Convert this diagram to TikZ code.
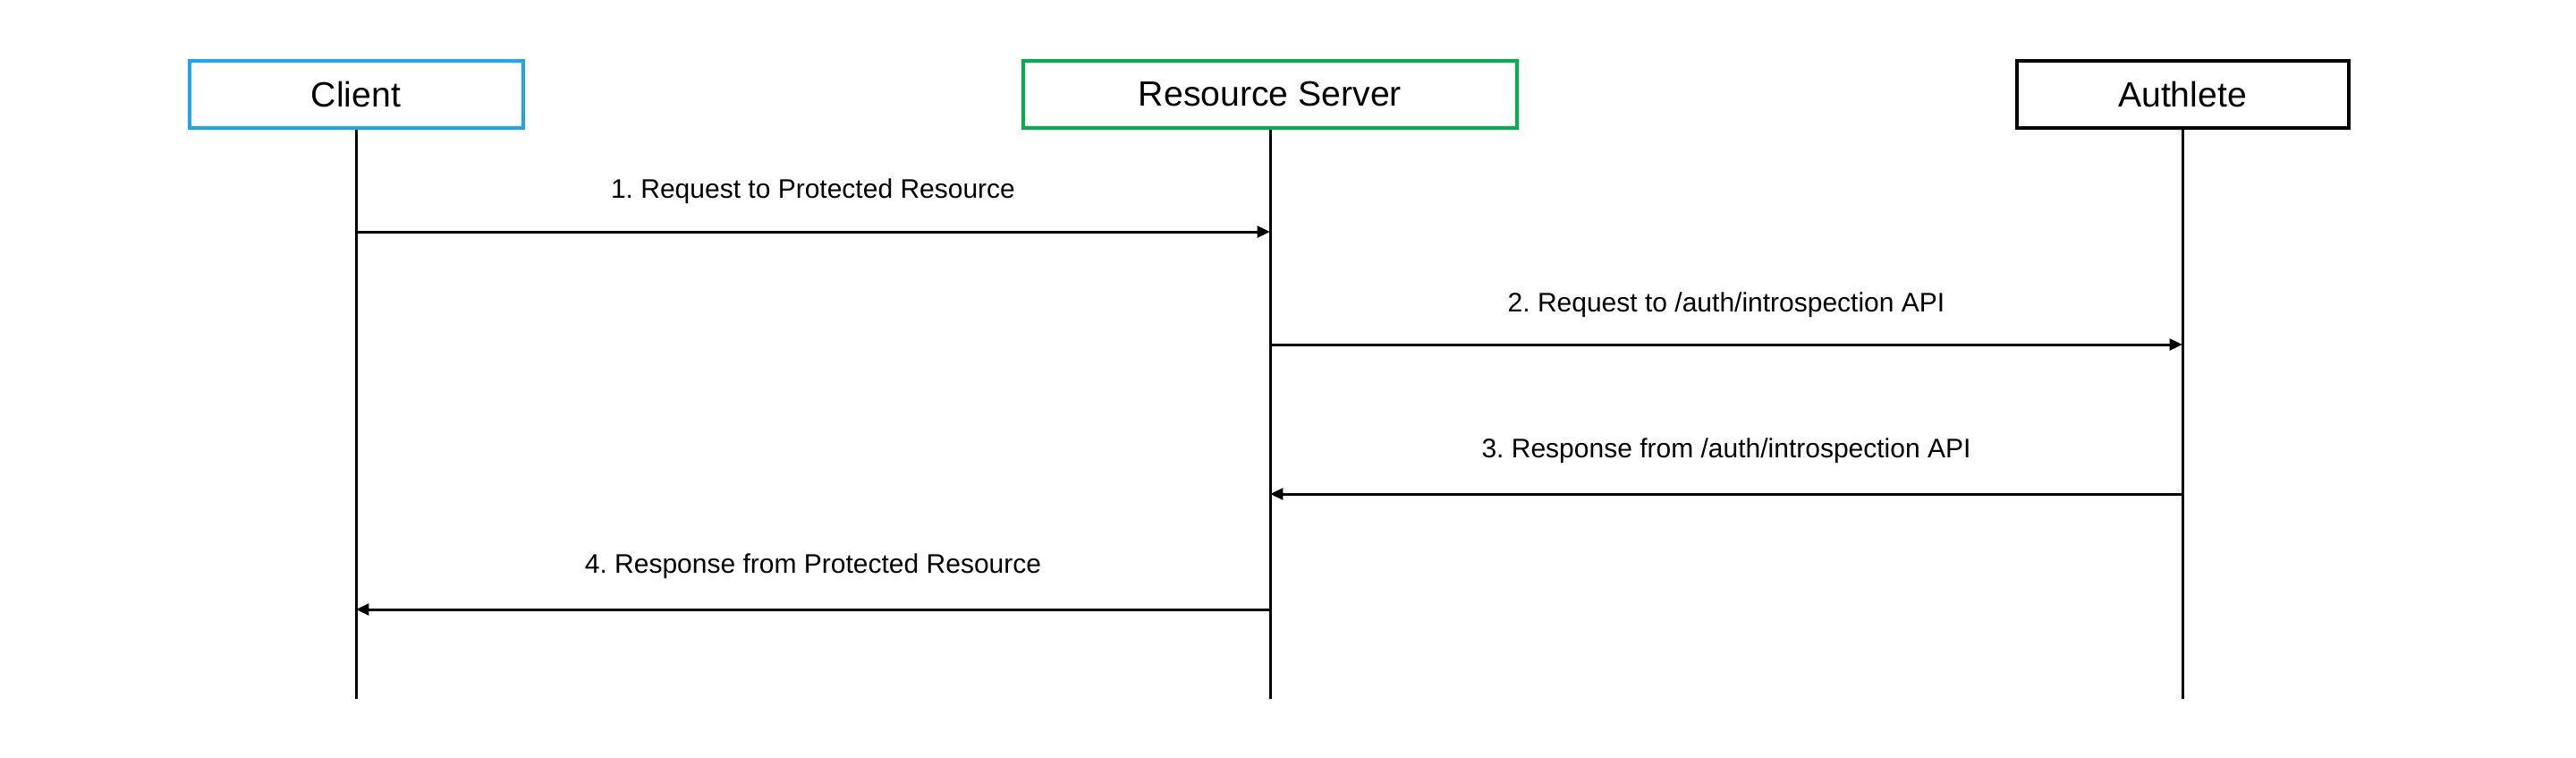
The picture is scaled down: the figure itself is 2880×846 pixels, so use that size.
\documentclass[tikz,border=0pt]{standalone}
\usepackage{fontspec}
\setmainfont{Liberation Sans}
\usetikzlibrary{arrows.meta}
\frenchspacing
\definecolor{clientblue}{HTML}{1AA7F0}
\definecolor{rsgreen}{HTML}{00B050}
\tikzset{
  actor/.style={draw, line width=1pt, fill=white, minimum height=75*0.25pt, inner sep=0pt, font=\fontsize{9.8}{12}\selectfont},
  lifeline/.style={line width=0.75pt},
  msg/.style={line width=0.75pt, -{Triangle[length=3.6pt,width=3.2pt]}},
  msglabel/.style={font=\fontsize{7.5}{9}\selectfont, inner sep=0pt}
}
\begin{document}
\begin{tikzpicture}[x=0.25pt,y=-0.25pt]
\useasboundingbox (0,0) rectangle (2880,846);
% actors
\node[actor, draw=clientblue, minimum width=373*0.25pt] (client) at (398,105.5) {Client};
\node[actor, draw=rsgreen, minimum width=552*0.25pt] (rs) at (1420,105.5) {Resource Server};
\node[actor, draw=black, minimum width=371*0.25pt] (auth) at (2440,105.5) {Authlete};
% lifeline ends
\coordinate (clientEnd) at (398,781);
\coordinate (rsEnd) at (1420,781);
\coordinate (authEnd) at (2440,781);
\draw[lifeline] (client.south) -- (clientEnd);
\draw[lifeline] (rs.south) -- (rsEnd);
\draw[lifeline] (auth.south) -- (authEnd);
% message anchor points
\coordinate (c1) at (398,259);  \coordinate (r1) at (1420,259);
\coordinate (r2) at (1420,385); \coordinate (a2) at (2440,385);
\coordinate (a3) at (2440,552); \coordinate (r3) at (1420,552);
\coordinate (r4) at (1420,681); \coordinate (c4) at (398,681);
\draw[msg] (c1) -- (r1);
\draw[msg] (r2) -- (a2);
\draw[msg] (a3) -- (r3);
\draw[msg] (r4) -- (c4);
% labels
\node[msglabel] (l1) at (909,214) {1. Request to Protected Resource};
\node[msglabel] (l2) at (1930,341) {2. Request to /auth/introspection API};
\node[msglabel] (l3) at (1930,504) {3. Response from /auth/introspection API};
\node[msglabel] (l4) at (909,633) {4. Response from Protected Resource};
\end{tikzpicture}
\end{document}
